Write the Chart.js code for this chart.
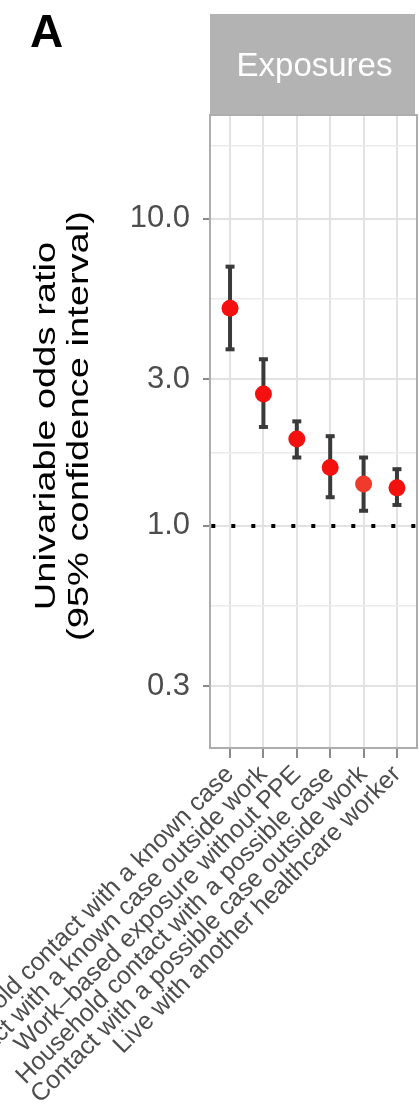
<!DOCTYPE html>
<html>
<head>
<meta charset="utf-8">
<script src="https://cdn.jsdelivr.net/npm/chart.js@4/dist/chart.umd.min.js"></script>
<style>
  body { margin: 0; background: #fff; overflow: hidden; }
  #wrap { width: 419px; height: 1116px; }
  canvas { display: block; }
</style>
</head>
<body>
<div id="wrap"><canvas id="myChart" width="419" height="1116"></canvas></div>
<script>
// exposures, in the order they are shown
const categories = [
  "Household contact with a known case",
  "Contact with a known case outside work",
  "Work\u2013based exposure without PPE",
  "Household contact with a possible case",
  "Contact with a possible case outside work",
  "Live with another healthcare worker",
];
const oddsRatio = [5.12, 2.69, 1.92, 1.55, 1.37, 1.33];
const ciLower = [3.76, 2.1, 1.67, 1.24, 1.12, 1.17];
const ciUpper = [6.99, 3.49, 2.19, 1.96, 1.67, 1.53];
const pointColors = ["#f51010", "#f51010", "#f51010", "#f51010", "#f03a2c", "#f51010"];

const yTicks = [0.3, 1, 3, 10];
const yTickLabels = ["0.3", "1.0", "3.0", "10.0"];
const yMinorTicks = [0.548, 1.73, 5.48, 17.3];

const FONT = "'Liberation Sans', Arial, sans-serif";

let ciData = [];
for (let i = 0; i < categories.length; i++) {
  ciData.push({ x: i, y: ciLower[i] });
  ciData.push({ x: i, y: ciUpper[i] });
  ciData.push({ x: i, y: null });
}
let pointData = oddsRatio.map((v, i) => ({ x: i, y: v }));

const isMajor = (v) => yTicks.some((t) => Math.abs(t - v) < 1e-6);

const panelPlugin = {
  id: "panel",
  beforeDraw(chart) {
    const ctx = chart.ctx;
    const area = chart.chartArea;
    ctx.save();
    ctx.fillStyle = "#fff";
    ctx.fillRect(0, 0, chart.width, chart.height);

    // strip header
    ctx.fillStyle = "#b3b3b3";
    ctx.fillRect(area.left, 14, area.right - area.left - 2, area.top - 14);
    ctx.fillStyle = "#fff";
    ctx.font = "33px " + FONT;
    ctx.textAlign = "center";
    ctx.textBaseline = "alphabetic";
    ctx.fillText("Exposures", (area.left + area.right) / 2 + 1, 76);

    // panel letter
    ctx.fillStyle = "#000";
    ctx.font = "bold 46px " + FONT;
    ctx.textAlign = "left";
    ctx.fillText("A", 30, 47);

    // y axis title (two lines)
    ctx.fillStyle = "#000";
    ctx.font = "30px " + FONT;
    ctx.textAlign = "center";
    let lines = [["Univariable odds ratio", 55], ["(95% confidence interval)", 88]];
    for (let [txt, bx] of lines) {
      ctx.save();
      ctx.translate(bx, 426);
      ctx.rotate(-Math.PI / 2);
      ctx.scale(1.27, 1);
      ctx.fillText(txt, 0, 0);
      ctx.restore();
    }
    ctx.restore();
  },
  afterDraw(chart) {
    const ctx = chart.ctx;
    const a = chart.chartArea;
    ctx.save();
    ctx.strokeStyle = "#adadad";
    ctx.lineWidth = 2;
    ctx.strokeRect(a.left, a.top, a.right - a.left, a.bottom - a.top);
    ctx.restore();
  },
};

let ctx = document.getElementById("myChart").getContext("2d");
let myChart = new Chart(ctx, {
  type: "scatter",
  data: {
    datasets: [
      {
        label: "OR",
        data: pointData,
        backgroundColor: pointColors,
        borderWidth: 0,
        pointRadius: 8.5,
        order: 0,
      },
      {
        label: "95% CI",
        data: ciData,
        showLine: true,
        spanGaps: false,
        borderColor: "#3a3a3a",
        borderWidth: 4,
        pointStyle: "line",
        pointRadius: 4.5,
        pointBorderWidth: 4,
        pointBorderColor: "#3a3a3a",
        order: 1,
      },
      {
        label: "null",
        data: [{ x: -0.6, y: 1 }, { x: 5.6, y: 1 }],
        showLine: true,
        borderColor: "#000",
        borderWidth: 4,
        borderDash: [4, 16],
        borderDashOffset: 18.7,
        pointRadius: 0,
        order: 2,
      },
    ],
  },
  options: {
    responsive: false,
    animation: false,
    layout: { autoPadding: false, padding: { top: 115, right: 2, left: 0, bottom: 0 } },
    plugins: { legend: { display: false }, tooltip: { enabled: false } },
    scales: {
      x: {
        type: "linear",
        min: -0.6,
        max: 5.6,
        afterBuildTicks: (scale) => {
          scale.ticks = categories.map((c, i) => ({ value: i }));
        },
        afterFit: (scale) => {
          scale.height = 368;
          scale.paddingLeft = 0;
          scale.paddingRight = 0;
        },
        ticks: {
          autoSkip: false,
          minRotation: 45,
          maxRotation: 45,
          padding: 2,
          color: "#4d4d4d",
          font: { family: FONT, size: 25 },
          callback: (v) => categories[v],
        },
        grid: {
          color: "#e2e2e2",
          lineWidth: 2,
          tickLength: 10,
          tickColor: "#8a8a8a",
          tickWidth: 2,
        },
        border: { display: false },
      },
      y: {
        type: "logarithmic",
        min: 0.189,
        max: 21.8,
        afterBuildTicks: (scale) => {
          scale.ticks = yTicks.concat(yMinorTicks).sort((a, b) => a - b).map((v) => ({ value: v }));
        },
        afterFit: (scale) => {
          scale.width = 210;
          scale.paddingTop = 0;
          scale.paddingBottom = 0;
        },
        ticks: {
          padding: 13,
          color: "#4d4d4d",
          font: { family: FONT, size: 31 },
          callback: (v) => {
            let k = yTicks.findIndex((t) => Math.abs(t - v) < 1e-6);
            return k >= 0 ? yTickLabels[k] : "";
          },
        },
        grid: {
          color: (c) => (c.tick && isMajor(c.tick.value) ? "#e2e2e2" : "#ebebeb"),
          lineWidth: (c) => (c.tick && isMajor(c.tick.value) ? 2 : 1.5),
          tickLength: 7,
          tickColor: (c) => (c.tick && isMajor(c.tick.value) ? "#8a8a8a" : "rgba(0,0,0,0)"),
          tickWidth: 2,
        },
        border: { display: false },
      },
    },
  },
  plugins: [panelPlugin],
});
</script>
</body>
</html>
